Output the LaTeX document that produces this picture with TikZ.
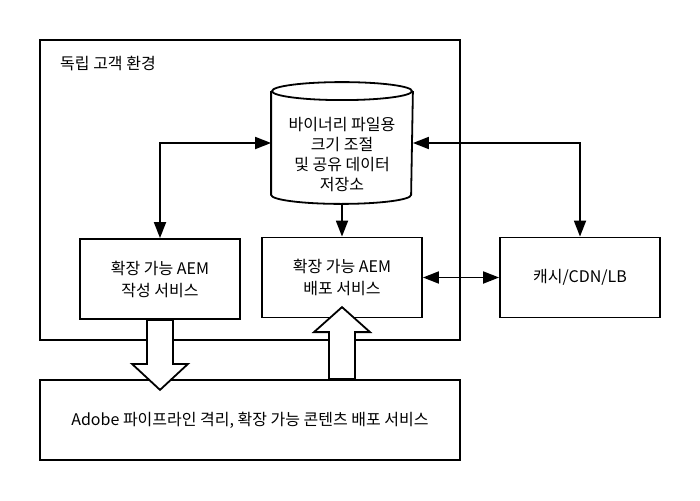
\documentclass[tikz,border=0pt]{standalone}
\usepackage{fontspec}
\setmainfont{Noto Sans CJK KR}
\usetikzlibrary{arrows.meta,calc}
\begin{document}
\begin{tikzpicture}[x=1pt,y=-1pt,line width=1.8pt,
        boxstyle/.style={draw,minimum width=160pt,minimum height=80pt,align=center,font=\fontsize{16}{22}\selectfont},
        flowarrow/.style={{Triangle[length=16pt,width=12pt]}-{Triangle[length=16pt,width=12pt]}},
        onearrow/.style={-{Triangle[length=16pt,width=12pt]}},
        blockarrow/.style={draw,fill=white,line join=miter}]
        \pgfmathsetmacro{\shaft}{13}
        \pgfmathsetmacro{\head}{28}

        \useasboundingbox (0,0) rectangle (700,500);

        % customer environment
        \node[draw,minimum width=420pt,minimum height=300pt] (env) at (250,190) {};
        \node[anchor=west,font=\fontsize{16}{20}\selectfont] (envlabel) at (56,64) {독립 고객 환경};

        % services
        \node[boxstyle] (author) at (160,279) {확장 가능 AEM\\작성 서비스};
        \node[boxstyle] (publish) at (342,277.5) {확장 가능 AEM\\배포 서비스};
        \node[boxstyle] (cache) at (580,277.5) {캐시/CDN/LB};
        \node[boxstyle,minimum width=420pt] (pipeline) at (250,420) {Adobe 파이프라인 격리, 확장 가능 콘텐츠 배포 서비스};

        % data store
        \node[minimum width=140pt,minimum height=120pt,inner sep=0pt] (db) at (342,143) {};
        \draw ([yshift=-9pt]db.north) ellipse [x radius=70pt,y radius=9pt];
        \draw ([yshift=-9pt]db.north west) -- ([yshift=9pt]db.south west)
              arc [start angle=180,end angle=360,x radius=70pt,y radius=9pt]
              -- ([yshift=-9pt]db.north east);
        \node[align=center,font=\fontsize{16}{20}\selectfont] (dbtext) at ([yshift=-12pt]db.center)
              {바이너리 파일용\\크기 조절\\및 공유 데이터\\저장소};

        % connectors
        \draw[flowarrow] (db.west) -| (author.north);
        \draw[flowarrow] (db.east) -| (cache.north);
        \draw[onearrow] (db.south) -- (publish.north);
        \draw[flowarrow] (publish.east) -- (cache.west);

        % block arrows
        \draw[blockarrow,shift={(author.south)}] (-\shaft,0) -- (\shaft,0) -- (\shaft,44) -- (\head,44)
              -- (0,70) -- (-\head,44) -- (-\shaft,44) -- cycle;
        \draw[blockarrow,shift={(pipeline.north -| publish.south)}] (-\shaft,0) -- (\shaft,0) -- (\shaft,-47)
              -- (\head,-47) -- (0,-72) -- (-\head,-47) -- (-\shaft,-47) -- cycle;
    \end{tikzpicture}
\end{document}
